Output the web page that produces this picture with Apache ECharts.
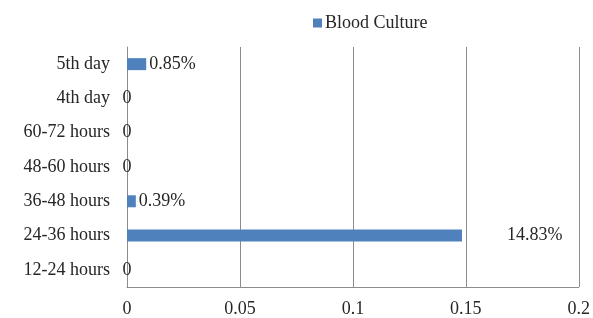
<!DOCTYPE html>
<html>
<head>
<meta charset="utf-8">
<script src="https://cdn.jsdelivr.net/npm/echarts@6/dist/echarts.min.js"></script>
<style>
  html, body { margin: 0; padding: 0; background: #fff; }
  #chart { width: 593px; height: 318px; }
</style>
</head>
<body>
<div id="chart"></div>
<script>
// bottom to top, as the axis draws them
var categories = ['12-24 hours', '24-36 hours', '36-48 hours', '48-60 hours', '60-72 hours', '4th day', '5th day'];
var bloodCulture = [0, 0.1483, 0.0039, 0, 0, 0, 0.0085];
var pointLabels = ['0', '14.83%', '0.39%', '0', '0', '0', '0.85%'];
var xTicks = [0, 0.05, 0.1, 0.15, 0.2];

var font = '"Liberation Serif", "Times New Roman", serif';
var textColor = '#262626';
var lineColor = '#8c8c8c';

var maxVal = Math.max.apply(null, bloodCulture);
var barData = bloodCulture.map(function (v, i) {
  var dist = 3;
  if (v === 0) dist = -4.5;
  else if (v === maxVal) dist = 45;
  return {
    value: v,
    label: {distance: dist, formatter: pointLabels[i]}
  };
});

var myEcharts = echarts.init(document.getElementById('chart'));
var option = {
  animation: false,
  legend: {
    data: ['Blood Culture'],
    left: 308,
    top: 9,
    itemWidth: 9,
    itemHeight: 9,
    itemGap: 3,
    icon: 'rect',
    textStyle: {fontFamily: font, fontSize: 18, color: textColor, padding: [0, 0, 0, -2]}
  },
  grid: {left: 127, right: 13, top: 47, bottom: 30},
  xAxis: {
    type: 'value',
    min: xTicks[0],
    max: xTicks[xTicks.length - 1],
    interval: 0.05,
    axisLine: {show: true, lineStyle: {color: lineColor}},
    axisTick: {show: false},
    splitLine: {show: true, lineStyle: {color: lineColor}},
    axisLabel: {fontFamily: font, fontSize: 18, color: textColor, margin: 13}
  },
  yAxis: {
    type: 'category',
    data: categories,
    axisLine: {show: true, lineStyle: {color: lineColor}},
    axisTick: {show: false},
    axisLabel: {fontFamily: font, fontSize: 18, color: textColor, margin: 17}
  },
  series: [{
    name: 'Blood Culture',
    type: 'bar',
    barWidth: 12,
    itemStyle: {color: '#4f81bd'},
    label: {
      show: true,
      position: 'right',
      fontFamily: font,
      fontSize: 18,
      color: textColor
    },
    data: barData
  }]
};
myEcharts.setOption(option);
</script>
</body>
</html>
